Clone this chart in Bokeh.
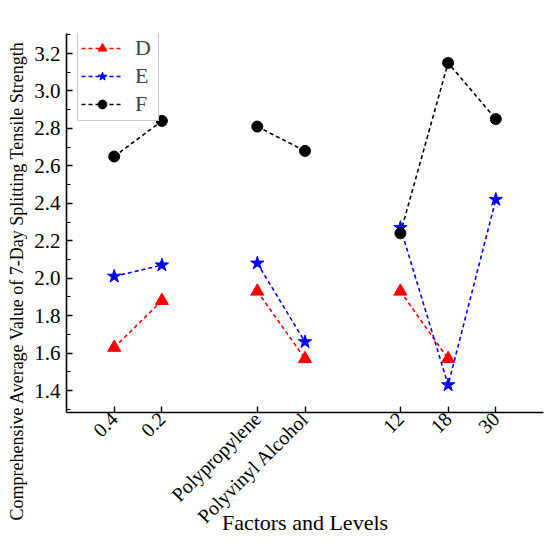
import math
from bokeh.plotting import figure
from bokeh.models import FixedTicker, Range1d, Legend, LegendItem, Title
from bokeh.embed import file_html
from bokeh.resources import INLINE

# ---- data ----
levels = ["0.4", "0.2", "Polypropylene", "Polyvinyl Alcohol", "12", "18", "30"]
groups = [0, 0, 1, 1, 2, 2, 2]
D = [1.63, 1.88, 1.93, 1.57, 1.93, 1.57, None]
E = [2.01, 2.07, 2.08, 1.66, 2.27, 1.43, 2.42]
F = [2.65, 2.84, 2.81, 2.68, 2.24, 3.15, 2.85]
y_ticks = [1.4, 1.6, 1.8, 2.0, 2.2, 2.4, 2.6, 2.8, 3.0, 3.2]

FONT = "Liberation Serif"

pos = [i + 1 + g for i, g in enumerate(groups)]


def seg(vals):
    xs, ys = [], []
    prev = None
    for x, g, v in zip(pos, groups, vals):
        if v is None:
            continue
        if prev is not None and g != prev:
            xs.append(float("nan"))
            ys.append(float("nan"))
        xs.append(x)
        ys.append(v)
        prev = g
    return xs, ys


p = figure(width=550, height=544, output_backend="svg", toolbar_location=None,
           x_range=Range1d(0, 10), y_range=Range1d(1.283, 3.307),
           min_border_left=66, min_border_right=7, min_border_top=33,
           min_border_bottom=132)
p.outline_line_color = None
p.xgrid.visible = False
p.ygrid.visible = False

series = [("D", D, "#FF0000", "triangle", 13),
          ("E", E, "#0000FF", "star", 14),
          ("F", F, "#000000", "circle", 11)]
items = []
for name, vals, col, mk, sz in series:
    xs, ys = seg(vals)
    ln = p.line(xs, ys, line_color=col, line_width=1.6, line_dash="4 3")
    mx = [x for x, v in zip(pos, vals) if v is not None]
    my = [v for v in vals if v is not None]
    sc = p.scatter(mx, my, marker=mk, size=sz, fill_color=col, line_color=col)
    items.append(LegendItem(label=name, renderers=[ln, sc]))

legend = Legend(items=items, location=(11, 291), label_text_font=FONT,
                label_text_font_size="22px", glyph_width=42, glyph_height=22,
                label_height=22, spacing=2, padding=3, label_standoff=12,
                border_line_color="#999999", border_line_width=1,
                background_fill_alpha=1.0, margin=0)
p.add_layout(legend, "center")

# axes
for ax in (p.xaxis[0], p.yaxis[0]):
    ax.axis_line_width = 1.6
    ax.axis_line_color = "black"
    ax.major_tick_line_width = 1.4
    ax.minor_tick_line_width = 1.2
    ax.major_tick_in = 6
    ax.major_tick_out = 0
    ax.minor_tick_in = 4
    ax.minor_tick_out = 0
    ax.major_label_text_font = FONT
    ax.major_label_text_color = "black"

p.xaxis.ticker = FixedTicker(ticks=pos, minor_ticks=[])
p.xaxis.major_label_overrides = {x: lab for x, lab in zip(pos, levels)}
p.xaxis.major_label_orientation = math.pi / 4
p.xaxis.major_label_text_font_size = "20px"
p.xaxis.major_label_standoff = 3
p.xaxis.axis_label = "Factors and Levels"
p.xaxis.axis_label_text_font = FONT
p.xaxis.axis_label_text_font_size = "22px"
p.xaxis.axis_label_text_font_style = "normal"
p.xaxis.axis_label_text_color = "black"
p.xaxis.axis_label_standoff = -28

minor = [round(1.3 + 0.1 * k, 1) for k in range(21)]
p.yaxis.ticker = FixedTicker(ticks=y_ticks, minor_ticks=minor)
p.yaxis.major_label_overrides = {t: f"{t:.1f}" for t in y_ticks}
p.yaxis.major_label_text_font_size = "21px"
p.yaxis.major_label_standoff = 6

ytitle = Title(text="Comprehensive Average Value of 7-Day Splitting Tensile Strength",
               align="left", offset=-108, text_font=FONT, text_font_size="18px",
               text_font_style="normal", text_color="black", standoff=9)
p.add_layout(ytitle, "left")

open("out.html", "w").write(file_html(p, INLINE))
